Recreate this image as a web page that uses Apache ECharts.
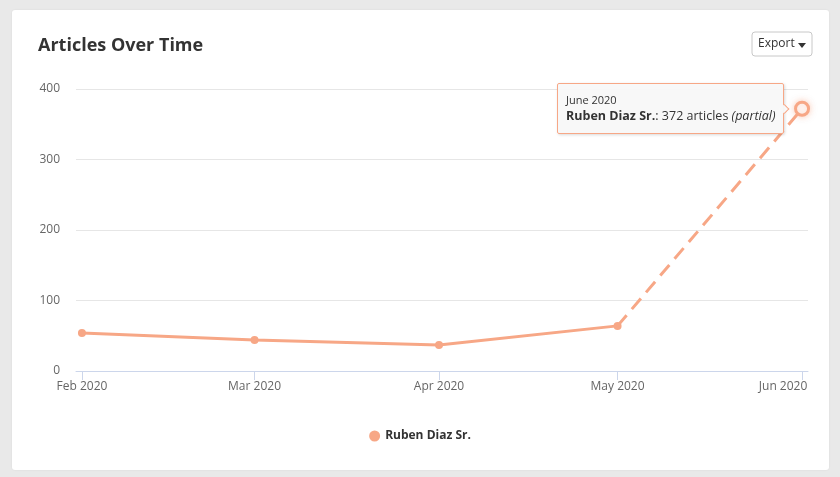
<!DOCTYPE html>
<html>
<head>
<meta charset="utf-8">
<script src="https://cdn.jsdelivr.net/npm/echarts@6/dist/echarts.min.js"></script>
<style>
  html, body { margin: 0; padding: 0; background: #e9e9e9; }
  #main { width: 840px; height: 477px; }
</style>
</head>
<body>
<div id="main"></div>
<script>
// data
var months = ['2020-02-01', '2020-03-01', '2020-04-01', '2020-05-01', '2020-06-01']
var monthLabels = ['Feb 2020', 'Mar 2020', 'Apr 2020', 'May 2020', 'Jun 2020']
var monthNames = ['February 2020', 'March 2020', 'April 2020', 'May 2020', 'June 2020']
var articles = [54, 44, 37, 64, 372]
var partial = [false, false, false, false, true]
var seriesName = 'Ruben Diaz Sr.'
var yTicks = [0, 100, 200, 300, 400]

var lineColor = '#f7a786'

// day number of each month start (x is a plain value axis in days)
function toDay (s) {
  var p = s.split('-')
  return Math.round(Date.UTC(+p[0], +p[1] - 1, +p[2]) / 86400000)
}
var days = months.map(toDay)

// full months drawn solid, the partial month dashed
var solidData = []
var dashData = []
articles.forEach(function (v, i) {
  if (!partial[i]) solidData.push([days[i], v])
})
var lastFull = solidData.length - 1
dashData.push({ value: [days[lastFull], articles[lastFull]], symbolSize: 0 })
for (var i = lastFull + 1; i < articles.length; i++) {
  dashData.push({
    value: [days[i], articles[i]],
    symbol: 'circle',
    symbolSize: 13,
    itemStyle: { color: '#fff', borderColor: lineColor, borderWidth: 3, shadowBlur: 6, shadowColor: 'rgba(247,168,136,0.5)' }
  })
}

var chart = echarts.init(document.getElementById('main'))
var option = {
  animation: false,
  textStyle: { fontFamily: 'Open Sans, Lato, sans-serif' },
  graphic: [
    {
      type: 'rect', z: -10,
      shape: { x: 12, y: 10, width: 817, height: 460, r: 3 },
      style: { fill: '#fff', shadowBlur: 2, shadowColor: 'rgba(0,0,0,0.08)' }
    },
    {
      type: 'rect',
      shape: { x: 752, y: 32, width: 60, height: 24, r: 3 },
      style: { fill: '#fff', stroke: '#c8c8c8', lineWidth: 1 }
    },
    {
      type: 'text', left: 758, top: 38,
      style: { text: 'Export', fill: '#333', fontSize: 12, fontFamily: 'Open Sans, sans-serif' }
    },
    {
      type: 'polygon',
      shape: { points: [[798, 43], [806, 43], [802, 48]] },
      style: { fill: '#333' }
    }
  ],
  title: {
    text: 'Articles Over Time',
    left: 33, top: 32,
    textStyle: { fontSize: 18, fontWeight: 'bold', color: '#333', fontFamily: 'Open Sans, sans-serif' }
  },
  legend: {
    data: [{ name: seriesName, icon: 'circle' }],
    bottom: 30, left: 'center',
    itemWidth: 11, itemHeight: 11, itemGap: 8,
    textStyle: { fontSize: 12, fontWeight: 'bold', color: '#333' }
  },
  grid: { left: 76, right: 32, top: 89, bottom: 106 },
  tooltip: {
    trigger: 'item',
    position: 'left',
    alwaysShowContent: true,
    backgroundColor: 'rgba(248,248,248,0.96)',
    borderColor: lineColor,
    borderWidth: 1,
    padding: [8, 8],
    extraCssText: 'border-color: #f7a786 !important; box-shadow: 1px 1px 3px rgba(0,0,0,0.15); border-radius: 2px;',
    textStyle: { color: '#333', fontFamily: 'Open Sans, sans-serif' },
    formatter: function (p) {
      var idx = days.indexOf(p.value[0])
      return '<div style="font-size:11px;line-height:15px">' + monthNames[idx] + '</div>' +
        '<div style="font-size:12.5px;line-height:18px"><b>' + seriesName + '</b>: ' + articles[idx] + ' articles' +
        (partial[idx] ? ' <i>(partial)</i>' : '') + '</div>'
    }
  },
  xAxis: {
    type: 'value',
    min: days[0] - 1,
    max: days[days.length - 1] + 1,
    axisLine: { show: true, lineStyle: { color: '#ccd6eb' } },
    axisTick: { show: true, customValues: days, length: 9, lineStyle: { color: '#ccd6eb' } },
    axisLabel: {
      customValues: days,
      margin: 10,
      fontSize: 12,
      color: '#666',
      formatter: function (v) {
        var idx = days.indexOf(v)
        if (idx < 0) return ''
        // last label pulled inside the plot, like the original
        return idx === days.length - 1 ? '{last|' + monthLabels[idx] + '}' : monthLabels[idx]
      },
      rich: {
        last: { fontSize: 12, color: '#666', padding: [0, 38, 0, 0] }
      }
    },
    splitLine: { show: false }
  },
  yAxis: {
    type: 'value',
    min: yTicks[0], max: yTicks[yTicks.length - 1], interval: 100,
    axisLine: { show: false },
    axisTick: { show: false },
    axisLabel: { fontSize: 12, color: '#666', margin: 16 },
    splitLine: { lineStyle: { color: '#e6e6e6' } }
  },
  series: [
    {
      name: seriesName,
      type: 'line',
      data: solidData,
      symbol: 'circle',
      symbolSize: 8,
      color: lineColor,
      lineStyle: { width: 3, color: lineColor },
      itemStyle: { color: lineColor },
      emphasis: { disabled: true },
      tooltip: { show: false }
    },
    {
      name: seriesName,
      type: 'line',
      data: dashData,
      symbol: 'circle',
      color: lineColor,
      lineStyle: { width: 3, color: lineColor, type: [14, 8] },
      emphasis: { disabled: true }
    }
  ]
}
chart.setOption(option)
chart.dispatchAction({ type: 'showTip', seriesIndex: 1, dataIndex: dashData.length - 1 })
</script>
</body>
</html>
